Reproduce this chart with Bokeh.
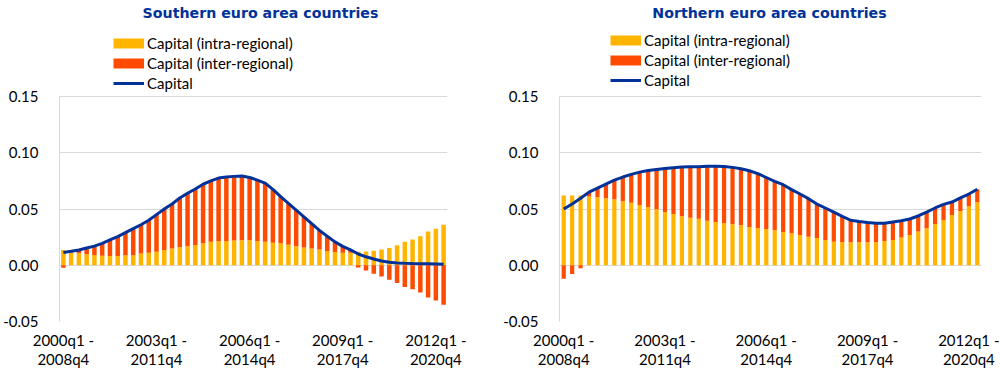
from bokeh.plotting import figure
from bokeh.layouts import row
from bokeh.models import (ColumnDataSource, FixedTicker, NumeralTickFormatter,
                          Legend, LegendItem, Label)
from bokeh.embed import file_html
from bokeh.resources import INLINE

# ---------------- data ----------------
# rolling 9-year windows, first window 2000q1 - 2008q4, 50 windows
categories = []
for i in range(50):
    s = 2000 * 4 + i
    e = s + 35
    categories.append(f"{s // 4}q{s % 4 + 1} - {e // 4}q{e % 4 + 1}")

tick_categories = ["2000q1 - 2008q4", "2003q1 - 2011q4", "2006q1 - 2014q4",
                   "2009q1 - 2017q4", "2012q1 - 2020q4"]

south_intra = [0.0136, 0.0115, 0.0107, 0.0098, 0.0092, 0.0085, 0.0083, 0.0083, 0.0088, 0.0090,
               0.0104, 0.0112, 0.0121, 0.0136, 0.0148, 0.0160, 0.0169, 0.0180, 0.0195, 0.0208,
               0.0213, 0.0215, 0.0220, 0.0222, 0.0222, 0.0216, 0.0208, 0.0200, 0.0195, 0.0182,
               0.0170, 0.0157, 0.0148, 0.0139, 0.0127, 0.0118, 0.0112, 0.0112, 0.0121, 0.0122,
               0.0130, 0.0139, 0.0154, 0.0178, 0.0210, 0.0228, 0.0257, 0.0300, 0.0325, 0.0360]
south_inter = [-0.0022, 0.0009, 0.0029, 0.0056, 0.0078, 0.0110, 0.0142, 0.0171, 0.0202, 0.0235,
               0.0256, 0.0288, 0.0329, 0.0364, 0.0397, 0.0438, 0.0471, 0.0498, 0.0525, 0.0542,
               0.0562, 0.0569, 0.0570, 0.0571, 0.0558, 0.0541, 0.0522, 0.0475, 0.0415, 0.0368,
               0.0320, 0.0273, 0.0222, 0.0171, 0.0131, 0.0090, 0.0056, 0.0024, -0.0021, -0.0047,
               -0.0075, -0.0101, -0.0128, -0.0158, -0.0193, -0.0213, -0.0243, -0.0286, -0.0313, -0.0352]
south_capital = [0.0114, 0.0124, 0.0136, 0.0154, 0.0170, 0.0195, 0.0225, 0.0254, 0.0290, 0.0325,
                 0.0360, 0.0400, 0.0450, 0.0500, 0.0545, 0.0598, 0.0640, 0.0678, 0.0720, 0.0750,
                 0.0775, 0.0784, 0.0790, 0.0793, 0.0780, 0.0757, 0.0730, 0.0675, 0.0610, 0.0550,
                 0.0490, 0.0430, 0.0370, 0.0310, 0.0258, 0.0208, 0.0168, 0.0136, 0.0100, 0.0075,
                 0.0055, 0.0038, 0.0026, 0.0020, 0.0017, 0.0015, 0.0014, 0.0014, 0.0012, 0.0008]

north_intra = [0.0621, 0.0621, 0.0621, 0.0612, 0.0604, 0.0595, 0.0586, 0.0568, 0.0556, 0.0536,
               0.0518, 0.0497, 0.0473, 0.0456, 0.0435, 0.0423, 0.0414, 0.0396, 0.0385, 0.0376,
               0.0364, 0.0355, 0.0340, 0.0331, 0.0322, 0.0311, 0.0296, 0.0284, 0.0269, 0.0254,
               0.0243, 0.0225, 0.0210, 0.0204, 0.0204, 0.0204, 0.0204, 0.0204, 0.0216, 0.0225,
               0.0246, 0.0269, 0.0299, 0.0328, 0.0367, 0.0402, 0.0447, 0.0482, 0.0524, 0.0559]
north_inter = [-0.0121, -0.0077, -0.0026, 0.0038, 0.0082, 0.0127, 0.0171, 0.0216, 0.0252, 0.0292,
               0.0325, 0.0355, 0.0388, 0.0411, 0.0438, 0.0453, 0.0462, 0.0484, 0.0495, 0.0502,
               0.0506, 0.0503, 0.0500, 0.0483, 0.0458, 0.0435, 0.0420, 0.0388, 0.0364, 0.0338,
               0.0301, 0.0284, 0.0263, 0.0231, 0.0196, 0.0184, 0.0175, 0.0169, 0.0157, 0.0160,
               0.0150, 0.0142, 0.0139, 0.0145, 0.0142, 0.0139, 0.0115, 0.0116, 0.0109, 0.0116]
north_capital = [0.0500, 0.0544, 0.0595, 0.0650, 0.0686, 0.0722, 0.0757, 0.0784, 0.0808, 0.0828,
                 0.0843, 0.0852, 0.0861, 0.0867, 0.0873, 0.0876, 0.0876, 0.0880, 0.0880, 0.0878,
                 0.0870, 0.0858, 0.0840, 0.0814, 0.0780, 0.0746, 0.0716, 0.0672, 0.0633, 0.0592,
                 0.0544, 0.0509, 0.0473, 0.0435, 0.0400, 0.0388, 0.0379, 0.0373, 0.0373, 0.0385,
                 0.0396, 0.0411, 0.0438, 0.0473, 0.0509, 0.0541, 0.0562, 0.0598, 0.0633, 0.0675]

y_ticks = [-0.05, 0.0, 0.05, 0.10, 0.15]
series_names = ["Capital (intra-regional)", "Capital (inter-regional)", "Capital"]

# ---------------- style ----------------
YELLOW = "#FFB400"
RED = "#FF4B00"
BLUE = "#003299"
GRID = "#D9D9D9"
TXT = "#000000"
FONT = "Lato"
FIG_H = 379
BORDER_BOTTOM = 58
PX_PER_STEP = 56.25  # pixels per 0.05


def panel(title, intra, inter, capital, width, bl, br, bar_w, legend_xy, title_x):
    n = len(categories)
    x = list(range(n))
    red_bottom = [a if b >= 0 else b for a, b in zip(intra, inter)]
    red_top = [a + b if b >= 0 else 0 for a, b in zip(intra, inter)]
    src = ColumnDataSource(dict(x=x, intra=intra, red_bottom=red_bottom,
                                red_top=red_top, capital=capital))
    # frame spans the full figure height above the x axis; the region above 0.15
    # holds the title and legend
    frame_h = FIG_H - BORDER_BOTTOM
    y_top = y_ticks[0] + frame_h / PX_PER_STEP * 0.05
    p = figure(width=width, height=FIG_H, x_range=(-0.5, n - 0.5),
               y_range=(y_ticks[0], y_top),
               output_backend="svg", toolbar_location=None,
               min_border_left=bl, min_border_right=br, min_border_top=0,
               min_border_bottom=BORDER_BOTTOM)
    p.outline_line_color = None
    p.background_fill_color = "white"
    p.border_fill_color = "white"

    p.vbar(x="x", width=bar_w, bottom=0, top="intra", source=src,
           fill_color=YELLOW, line_color=None)
    p.vbar(x="x", width=bar_w, bottom="red_bottom", top="red_top", source=src,
           fill_color=RED, line_color=None)
    p.line("x", "capital", source=src, line_color=BLUE, line_width=3)

    # legend swatches (renderers without visible points)
    nan = float("nan")
    d1 = p.line(x=[0], y=[nan], line_color=YELLOW, line_width=10)
    d2 = p.line(x=[0], y=[nan], line_color=RED, line_width=10)
    d3 = p.line(x=[0], y=[nan], line_color=BLUE, line_width=3)
    legend = Legend(items=[LegendItem(label=series_names[0], renderers=[d1]),
                           LegendItem(label=series_names[1], renderers=[d2]),
                           LegendItem(label=series_names[2], renderers=[d3])],
                    location=legend_xy, padding=0, margin=0, spacing=0,
                    glyph_width=31, glyph_height=20, label_height=20,
                    label_standoff=3, border_line_color=None,
                    background_fill_alpha=0,
                    label_text_font=FONT, label_text_font_size="15px",
                    label_text_color=TXT)
    p.add_layout(legend)

    p.add_layout(Label(x=title_x, y=frame_h - 12.3, x_units="screen", y_units="screen",
                       text=title, text_align="center", text_baseline="middle",
                       text_font="DejaVu Sans", text_font_style="bold",
                       text_font_size="14.2px", text_color=BLUE))

    # axes
    p.xgrid.grid_line_color = None
    p.ygrid.grid_line_color = GRID
    p.ygrid.ticker = FixedTicker(ticks=y_ticks)
    p.yaxis.ticker = FixedTicker(ticks=y_ticks)
    p.yaxis.bounds = (y_ticks[0], y_ticks[-1])
    p.yaxis.formatter = NumeralTickFormatter(format="0.00")
    p.yaxis.axis_line_color = GRID
    p.yaxis.major_tick_line_color = None
    p.yaxis.minor_tick_line_color = None
    p.yaxis.major_label_standoff = 15
    p.yaxis.major_label_text_font = FONT
    p.yaxis.major_label_text_font_size = "15px"
    p.yaxis.major_label_text_color = TXT

    tick_idx = [categories.index(c) for c in tick_categories]
    p.xaxis.ticker = FixedTicker(ticks=tick_idx)
    p.xaxis.major_label_overrides = {i: categories[i].replace(" - ", " -\n")
                                     for i in tick_idx}
    p.xaxis.axis_line_color = None
    p.xaxis.major_tick_line_color = None
    p.xaxis.minor_tick_line_color = None
    p.xaxis.major_label_standoff = 3
    p.xaxis.major_label_text_font = FONT
    p.xaxis.major_label_text_font_size = "15px"
    p.xaxis.major_label_text_color = TXT
    p.xaxis.major_label_text_line_height = 1.1
    return p


p1 = panel("Southern euro area countries", south_intra, south_inter, south_capital,
           width=500, bl=56, br=53, bar_w=0.58, legend_xy=(54, 228), title_x=201)
p2 = panel("Northern euro area countries", north_intra, north_inter, north_capital,
           width=500, bl=52, br=19, bar_w=0.5, legend_xy=(51, 231.5), title_x=210)

layout = row(p1, p2)
open("out.html", "w").write(file_html(layout, INLINE))
